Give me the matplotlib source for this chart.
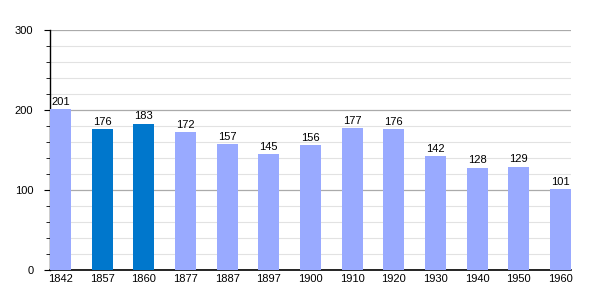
import matplotlib
matplotlib.use("Agg")
import matplotlib.pyplot as plt
from matplotlib.ticker import MultipleLocator

plt.rcParams["font.family"] = ["Liberation Sans", "DejaVu Sans"]

years = ["1842", "1857", "1860", "1877", "1887", "1897", "1900",
         "1910", "1920", "1930", "1940", "1950", "1960"]
population = [201, 176, 183, 172, 157, 145, 156, 177, 176, 142, 128, 129, 101]
highlight = ["1857", "1860"]

light = "#99aaff"
dark = "#0077cc"

fig = plt.figure(figsize=(6, 3), dpi=100)
ax = fig.add_axes([50 / 600, 30 / 300, 521 / 600, 240 / 300])

x = range(len(years))
colors = [dark if y in highlight else light for y in years]
ax.bar(x, population, width=0.5, color=colors, zorder=3)

for i, v in enumerate(population):
    ax.text(i, v + 3, str(v), ha="center", va="bottom", fontsize=8, zorder=4)

ax.set_xlim(-0.25, len(years) - 0.75)
ax.set_ylim(0, 300)
ax.yaxis.set_major_locator(MultipleLocator(100))
ax.yaxis.set_minor_locator(MultipleLocator(20))
ax.grid(which="major", axis="y", color="#aaaaaa", linewidth=0.9, zorder=1)
ax.grid(which="minor", axis="y", color="#e2e2e2", linewidth=0.8, zorder=1)

ax.set_xticks(list(x))
ax.set_xticklabels(years, fontsize=8)
ax.tick_params(axis="x", length=0, pad=3)
ax.tick_params(axis="y", which="major", length=4, labelsize=8, pad=8)
ax.tick_params(axis="y", which="minor", length=3)

for s in ["top", "right"]:
    ax.spines[s].set_visible(False)
ax.spines["left"].set_linewidth(1)
ax.spines["bottom"].set_linewidth(1.2)

fig.savefig("out.png", dpi=100)
